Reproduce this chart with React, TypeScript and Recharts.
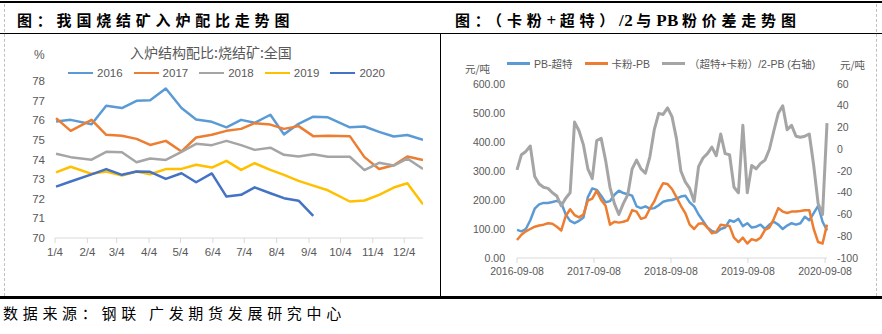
import React from 'react';
import { LineChart, Line, XAxis, YAxis } from 'recharts';

// ---- left panel: sinter share in blast furnace burden (%), one line per year
const monthTicks = [0, 31, 59, 90, 120, 151, 181, 212, 243, 273, 304, 334];
const monthLabels = ['1/4', '2/4', '3/4', '4/4', '5/4', '6/4', '7/4', '8/4', '9/4', '10/4', '11/4', '12/4'];
const sampleDays = [1, 15, 35, 49, 64, 78, 91, 106, 121, 135, 150, 164, 178, 191, 206, 219, 233, 247, 261, 282, 296, 310, 324, 337, 352];

const y2016 = [75.94, 76.02, 75.8, 76.74, 76.62, 76.99, 77.02, 77.62, 76.62, 76.04, 75.92, 75.64, 76.02, 75.87, 76.28, 75.28, 75.82, 76.18, 76.15, 75.64, 75.68, 75.41, 75.17, 75.25, 75.0];
const y2017 = [76.11, 75.46, 76.02, 75.26, 75.21, 75.05, 74.74, 74.95, 74.41, 75.12, 75.26, 75.46, 75.56, 75.85, 75.78, 75.56, 75.7, 75.19, 75.21, 75.19, 74.12, 73.52, 73.71, 74.15, 73.97];
const y2018 = [74.29, 74.12, 73.99, 74.39, 74.37, 73.86, 74.05, 73.98, 74.39, 74.8, 74.73, 74.95, 74.73, 74.49, 74.6, 74.24, 74.15, 74.27, 74.14, 74.14, 73.46, 73.83, 73.69, 74.05, 73.52];
const y2019 = [73.34, 73.63, 73.27, 73.39, 73.18, 73.39, 73.25, 73.51, 73.52, 73.73, 73.59, 73.93, 73.47, 73.81, 73.47, 73.22, 72.91, 72.67, 72.43, 71.86, 71.91, 72.2, 72.57, 72.79, 71.72];
const y2020 = [72.62, 72.88, 73.24, 73.51, 73.22, 73.39, 73.37, 73.01, 73.3, 72.84, 73.29, 72.11, 72.2, 72.58, 72.28, 72.03, 71.9, 71.13];

const yearNames = ['2016', '2017', '2018', '2019', '2020'];
const yearColors = ['#5B9BD5', '#ED7D31', '#A5A5A5', '#FFC000', '#4472C4'];
const yearValues = [y2016, y2017, y2018, y2019, y2020];
const pctTicks = [70, 71, 72, 73, 74, 75, 76, 77, 78];

// ---- right panel: price spreads, sampled every 3 weeks from 2016-09-08
const spreadTicks = [0, 365, 730, 1095, 1461];
const spreadTickLabels = ['2016-09-08', '2017-09-08', '2018-09-08', '2019-09-08', '2020-09-08'];
const pbMinusSuper = [97, 92, 100, 130, 170, 185, 190, 190, 193, 197, 190, 150, 128, 120, 128, 140, 210, 240, 235, 215, 192, 196, 218, 232, 224, 220, 215, 178, 172, 178, 170, 172, 182, 194, 198, 200, 205, 212, 215, 192, 178, 150, 128, 105, 93, 88, 100, 105, 130, 125, 135, 110, 120, 105, 108, 115, 100, 115, 125, 115, 100, 112, 120, 115, 120, 142, 130, 155, 180, 125, 95];
const carajasMinusPb = [62, 80, 92, 100, 108, 112, 115, 120, 118, 108, 95, 145, 168, 148, 140, 150, 198, 205, 232, 200, 180, 115, 125, 122, 125, 130, 165, 160, 135, 140, 170, 195, 230, 258, 255, 238, 210, 180, 155, 115, 100, 118, 120, 105, 85, 90, 115, 112, 110, 70, 55, 70, 50, 65, 60, 70, 97, 105, 135, 172, 160, 155, 160, 160, 162, 165, 165, 100, 55, 50, 115];
const avgMinusPb = [-19, -5, -2, 3, -25, -32, -35, -36, -40, -43, -52, -45, -40, 25, 17, 4, -18, -27, 8, 10, -10, -35, -50, -60, -50, -42, -18, -10, -18, -22, -7, 18, 33, 32, 38, 30, 10, -20, -30, -36, -48, -16, -8, -4, 2, -6, 14, -4, -5, -35, -40, 22, -40, -15, -18, -13, -10, 0, 17, 33, 40, 18, 22, 12, 11, 12, 14, -15, -50, -60, 24];

const spreadNames = ['PB-超特', '卡粉-PB', '（超特+卡粉）/2-PB (右轴)'];
const spreadColors = ['#5B9BD5', '#ED7D31', '#A5A5A5'];
const spreadValues = [pbMinusSuper, carajasMinusPb, avgMinusPb];
const leftTicks = [0, 100, 200, 300, 400, 500, 600];
const rightTicks = [-100, -80, -60, -40, -20, 0, 20, 40, 60];

const grey = '#595959';
const numFont = '"Liberation Sans", "Noto Sans CJK SC", sans-serif';
const cjkFont = '"Noto Sans CJK SC", sans-serif';
const serifFont = '"Liberation Serif", "Noto Sans CJK SC", serif';

const sinterSeries = yearNames.map((name, k) => ({
  name,
  color: yearColors[k],
  data: yearValues[k].map((v, i) => ({ day: sampleDays[i], value: v })),
}));

const spreadSeries = spreadNames.map((name, k) => ({
  name,
  color: spreadColors[k],
  axis: k === 2 ? 'right' : 'left',
  width: k === 2 ? 3 : 2.5,
  data: spreadValues[k].map((v, i) => ({ day: i * 21, value: v })),
}));

const abs = (left: number, top: number, extra: React.CSSProperties = {}): React.CSSProperties => ({
  position: 'absolute',
  left,
  top,
  ...extra,
});

const LegendItem = ({ color, label, lineW, size }: { color: string; label: string; lineW: number; size: number }) => (
  <div style={{ display: 'flex', alignItems: 'center', whiteSpace: 'nowrap' }}>
    <span style={{ display: 'inline-block', width: lineW, height: 2.5, background: color, marginRight: 4 }} />
    <span style={{ fontSize: size, color: grey, fontFamily: numFont }}>{label}</span>
  </div>
);

const headStyle: React.CSSProperties = {
  fontFamily: cjkFont,
  fontWeight: 700,
  fontSize: 15,
  letterSpacing: 4.8,
  lineHeight: '20px',
  color: '#000',
  whiteSpace: 'nowrap',
};
const latin: React.CSSProperties = { fontFamily: serifFont, fontSize: 17, letterSpacing: 0.5, marginRight: 3 };

const App: React.FC = () => {
  return (
    <div style={{ position: 'fixed', left: 0, top: 0, width: 882, height: 334, background: '#fff', overflow: 'hidden' }}>
      {/* frame lines */}
      <div style={abs(0, 1, { width: 882, height: 2, background: '#000' })} />
      <div style={abs(0, 33, { width: 882, height: 1, background: '#000' })} />
      <div style={abs(440, 33, { width: 1, height: 264, background: '#000' })} />
      <div style={abs(0, 296, { width: 882, height: 2.5, background: '#000' })} />
      <div style={abs(4, 4, { height: 292, borderLeft: '1px dashed #C0C0C0' })} />
      <div style={abs(876, 4, { height: 292, borderLeft: '1px dashed #C0C0C0' })} />

      {/* headings */}
      <div style={abs(17, 10, headStyle)}>图：我国烧结矿入炉配比走势图</div>
      <div style={abs(455, 10, headStyle)}>
        图：（卡粉<span style={latin}>+</span>超特）<span style={latin}>/2</span>与<span style={latin}>PB</span>粉价差走势图
      </div>
      <div style={abs(3, 303, { fontFamily: cjkFont, fontSize: 15, letterSpacing: 4.7, lineHeight: '20px', color: '#000', whiteSpace: 'nowrap' })}>
        数据来源：钢联 广发期货发展研究中心
      </div>

      {/* left panel */}
      <div style={abs(130, 44, { fontFamily: cjkFont, fontSize: 14, lineHeight: '16px', color: grey, whiteSpace: 'nowrap' })}>
        入炉结构配比:烧结矿:全国
      </div>
      <div style={abs(34, 48, { fontFamily: numFont, fontSize: 12, lineHeight: '14px', color: grey })}>%</div>
      <div style={abs(68, 67, { display: 'flex', gap: 11 })}>
        {sinterSeries.map((s) => (
          <LegendItem key={s.name} color={s.color} label={s.name} lineW={25} size={11.5} />
        ))}
      </div>
      <div style={abs(0, 0)}>
        <LineChart width={440} height={296} margin={{ top: 81, right: 17, bottom: 28, left: 0 }}>
          <XAxis
            type="number"
            dataKey="day"
            domain={[0, 352]}
            ticks={monthTicks}
            tickFormatter={(v: number) => monthLabels[monthTicks.indexOf(v)]}
            allowDataOverflow
            height={30}
            stroke="#D9D9D9"
            tickSize={5}
            tickMargin={5}
            tick={{ fill: grey, fontSize: 11.5, fontFamily: numFont }}
          />
          <YAxis
            type="number"
            domain={[70, 78]}
            ticks={pctTicks}
            width={55}
            axisLine={false}
            tickLine={false}
            tickSize={6}
            tickMargin={4}
            tick={{ fill: grey, fontSize: 11.5, fontFamily: numFont }}
          />
          {sinterSeries.map((s) => (
            <Line
              key={s.name}
              data={s.data}
              dataKey="value"
              name={s.name}
              stroke={s.color}
              strokeWidth={2.5}
              dot={false}
              strokeLinejoin="round"
              isAnimationActive={false}
            />
          ))}
        </LineChart>
      </div>

      {/* right panel */}
      <div style={abs(465, 63, { fontFamily: cjkFont, fontSize: 10.5, lineHeight: '12px', color: grey })}>元/吨</div>
      <div style={abs(840, 59, { fontFamily: cjkFont, fontSize: 10.5, lineHeight: '12px', color: grey })}>元/吨</div>
      <div style={abs(507, 56, { display: 'flex', gap: 12 })}>
        {spreadSeries.map((s) => (
          <LegendItem key={s.name} color={s.color} label={s.name} lineW={23} size={10.5} />
        ))}
      </div>
      <div style={abs(440, 0)}>
        <LineChart width={442} height={296} margin={{ top: 84, right: 0, bottom: 8, left: 0 }}>
          <XAxis
            type="number"
            dataKey="day"
            domain={[0, 1470]}
            ticks={spreadTicks}
            tickFormatter={(v: number) => spreadTickLabels[spreadTicks.indexOf(v)]}
            height={30}
            stroke="#D9D9D9"
            tickSize={5}
            tickMargin={5}
            tick={{ fill: grey, fontSize: 10.5, fontFamily: numFont }}
          />
          <YAxis
            yAxisId="left"
            type="number"
            domain={[0, 600]}
            ticks={leftTicks}
            tickFormatter={(v: number) => v.toFixed(2)}
            width={77}
            axisLine={false}
            tickLine={false}
            tickSize={6}
            tickMargin={6}
            tick={{ fill: grey, fontSize: 10.5, fontFamily: numFont }}
          />
          <YAxis
            yAxisId="right"
            orientation="right"
            type="number"
            domain={[-100, 60]}
            ticks={rightTicks}
            width={55}
            axisLine={false}
            tickLine={false}
            tickSize={6}
            tickMargin={4}
            tick={{ fill: grey, fontSize: 10.5, fontFamily: numFont, textAnchor: 'start' }}
          />
          {spreadSeries.map((s) => (
            <Line
              key={s.name}
              yAxisId={s.axis}
              data={s.data}
              dataKey="value"
              name={s.name}
              stroke={s.color}
              strokeWidth={s.width}
              dot={false}
              strokeLinejoin="round"
              isAnimationActive={false}
            />
          ))}
        </LineChart>
      </div>
    </div>
  );
};

export default App;
